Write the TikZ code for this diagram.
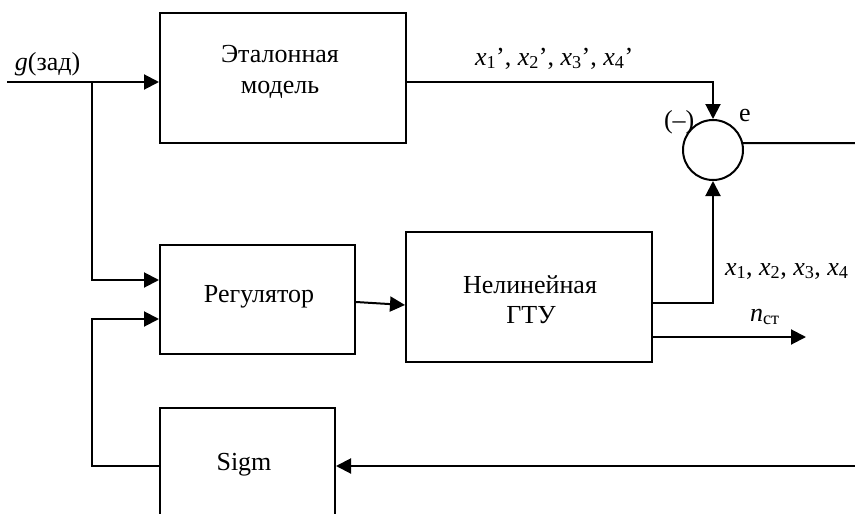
\documentclass[tikz,border=0pt]{standalone}
\usepackage{fontspec}
\setmainfont{Liberation Serif}
\usetikzlibrary{arrows.meta,calc}
\newcommand\xs[1]{\textit{x}\textsubscript{#1}}
\begin{document}
\begin{tikzpicture}[x=1pt,y=-1pt,
  font=\fontsize{26}{31}\selectfont,
  line width=2pt,
  blk/.style={draw, line width=2pt, inner sep=0pt},
  arr/.style={-{Triangle[length=15pt,width=15pt]}, line width=2pt},
  txt/.style={anchor=base, inner sep=0pt},
  lbl/.style={anchor=base west, inner sep=0pt}]
\useasboundingbox (0,0) rectangle (855,514);
\clip (0,0) rectangle (855,514);

% blocks
\node[blk, minimum width=246pt, minimum height=130pt] (etal) at (283,78) {};
\node[blk, minimum width=195pt, minimum height=109pt] (reg) at (257.5,299.5) {};
\node[blk, minimum width=246pt, minimum height=130pt] (gtu) at (529,297) {};
\node[blk, minimum width=175pt, minimum height=152pt] (sigm) at (247.5,484) {};
\node[circle, draw, line width=2pt, minimum size=60pt, inner sep=0pt] (c) at (713,150) {};

% block texts
\node[txt] (t1) at (280,62) {Эталонная};
\node[txt] (t2) at (280,93) {модель};
\node[txt] (t3) at (259,302) {Регулятор};
\node[txt] (t4) at (530,293) {Нелинейная};
\node[txt] (t5) at (531,323) {ГТУ};
\node[txt] (t6) at (244,470) {Sigm};

% labels
\node[lbl] (lg) at (14,70) {\textit{g}(зад)};
\node[lbl] (lx1) at (474,65) {\xs{1}’, \xs{2}’, \xs{3}’, \xs{4}’};
\node[lbl] (lx2) at (724,275) {\xs{1}, \xs{2}, \xs{3}, \xs{4}};
\node[lbl] (ln) at (749,321) {\textit{n}\textsubscript{ст}};
\node[lbl] (le) at (738,121) {e};
\node[lbl] (lm) at (663,128) {(–)};

% helper coordinates
\coordinate (gin) at (7,82);
\coordinate (br) at (92,82);
\coordinate (y280) at (0,280);
\coordinate (y319) at (0,319);
\coordinate (y303) at (0,303);
\coordinate (y337) at (0,337);
\coordinate (fbR) at (855,466);
\coordinate (fbL) at (92,466);
\coordinate (nout) at (806,337);
\coordinate (eout) at (855,143);

% connectors
\draw[arr] (gin) -- (gin -| etal.west);
\draw[arr] (br) |- (reg.west |- y280);
\draw[arr] (etal.east |- gin) -| (c.north);
\draw[arr] ([yshift=-2.5pt]reg.east) -- ([yshift=-8pt]gtu.west);
\draw[arr] (gtu.east |- y303) -| (c.south);
\draw[arr] (gtu.east |- y337) -- (nout);
\draw (c.13.5) -- (eout);
\draw[arr] (fbR) -- (fbR -| sigm.east);
\draw[arr] (sigm.west |- fbR) -- (fbL) |- (reg.west |- y319);
\end{tikzpicture}
\end{document}
